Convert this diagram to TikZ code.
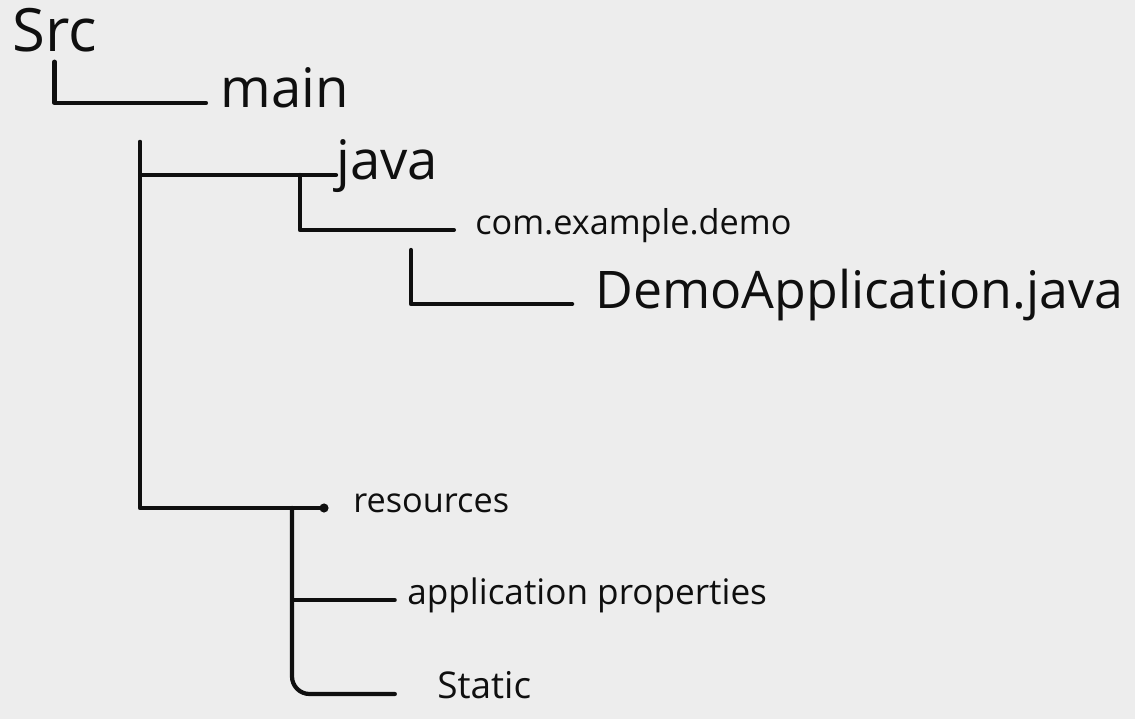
\documentclass[tikz,border=0pt]{standalone}
\usepackage{fontspec}
\setmainfont{Open Sans}
\usetikzlibrary{arrows.meta}

\definecolor{paper}{gray}{0.93}
\definecolor{ink}{gray}{0.06}
\tikzstyle{dir} = [inner sep=0pt, anchor=mid west, text=ink, font=\fontsize{21}{26}\selectfont]

\begin{document}
\begin{tikzpicture}[x=0.02cm, y=-0.02cm,
		branch/.style = {ink, line width=2.4pt, line cap=round, line join=round},
		big/.style = {dir, font=\fontsize{29.5}{34}\selectfont},
		small/.style = {dir, font=\fontsize{19.5}{24}\selectfont}]
		\fill[paper] (0,0) rectangle (1135,719);
		\useasboundingbox (0,0) rectangle (1135,719);

		\node (src) [dir, anchor=base west, font=\fontsize{34}{38}\selectfont] at (12,52) {Src};
		\node (main) [big, font=\fontsize{31}{36}\selectfont] at (220,103) {main};
		\node (java) [big, font=\fontsize{31}{36}\selectfont] at (336,175) {java};
		\node (com) [small] at (475,230) {com.example.demo};
		\node (app) [big] at (595,304) {DemoApplication.java};
		\node (res) [small] at (353,508) {resources};
		\node (props) [small, font=\fontsize{20}{24}\selectfont] at (407,600) {application properties};
		\node (static) [dir] at (437,694) {Static};

		\coordinate (mainfork) at (140,142);
		\coordinate (javafork) at (300,175);
		\coordinate (comfork) at (411,250);
		\coordinate (resfork) at (292,508);

		\draw [branch, shorten <=5pt, shorten >=8pt] (src.south) |- (main.mid west);
		\draw [branch] (mainfork) |- (java.mid west);
		\draw [branch, -{Circle[length=5pt]}, shorten >=14pt] (mainfork) |- (res.mid west);
		\draw [branch, shorten >=12pt] (javafork) |- (com.mid west);
		\draw [branch, shorten >=13pt] (comfork) |- (app.mid west);
		\draw [branch, shorten >=7pt] (resfork) |- (props.mid west);
		\draw [branch, rounded corners=10pt, shorten >=24pt] (resfork) |- (static.mid west);
	\end{tikzpicture}
\end{document}
